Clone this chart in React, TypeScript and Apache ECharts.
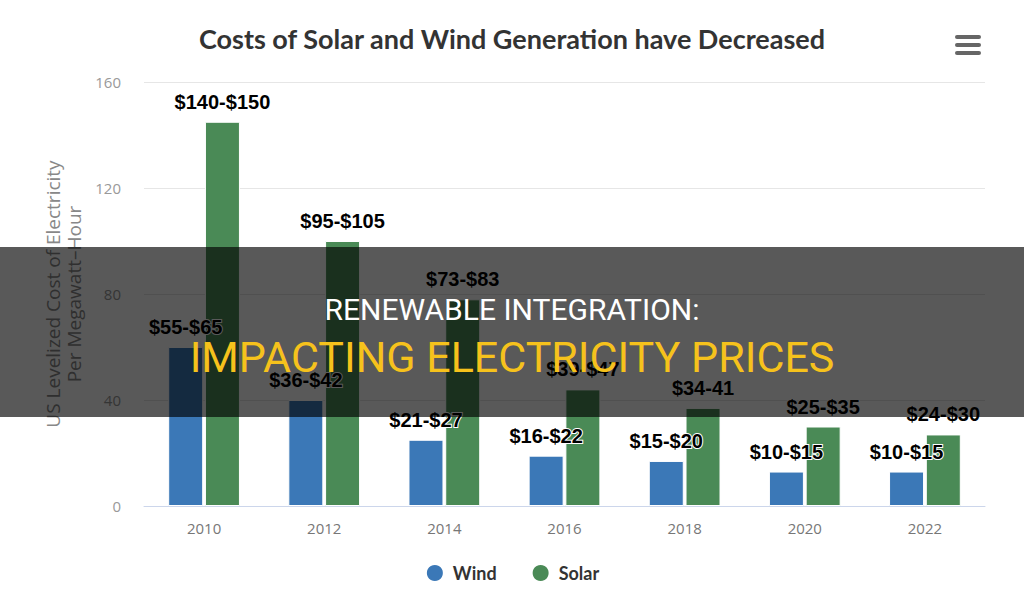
import React, { useEffect, useRef } from "react";
import * as echarts from "echarts";

const years = ["2010", "2012", "2014", "2016", "2018", "2020", "2022"];
const windValues = [60, 40, 25, 19, 17, 13, 13];
const solarValues = [145, 100, 78, 44, 37, 30, 27];
const windLabels = ["$55-$65", "$36-$42", "$21-$27", "$16-$22", "$15-$20", "$10-$15", "$10-$15"];
const solarLabels = ["$140-$150", "$95-$105", "$73-$83", "$39-$47", "$34-41", "$25-$35", "$24-$30"];
const yTicks = { min: 0, max: 160, interval: 40 };
const titleText = "Costs of Solar and Wind Generation have Decreased";
const yAxisName = "US Levelized Cost of Electricity\nPer Megawatt\u2013Hour";
const bannerLine1 = "RENEWABLE INTEGRATION:";
const bannerLine2 = "IMPACTING ELECTRICITY PRICES";

export default function App() {
  const ref = useRef<HTMLDivElement>(null);
  useEffect(() => {
    if (!ref.current) return;
    const chart = echarts.init(ref.current, undefined, { renderer: "svg" });
    const labelStyle = {
      show: true,
      position: "top",
      distance: 10,
      fontFamily: "'Liberation Sans', Arial, sans-serif",
      fontWeight: "bold",
      fontSize: 20,
      color: "#000",
      textBorderColor: "#fff",
      textBorderWidth: 2,
    };
    chart.setOption({
      animation: false,
      backgroundColor: "#fff",
      title: {
        text: titleText,
        left: "center",
        top: 20,
        textStyle: {
          fontFamily: "Lato, sans-serif",
          fontWeight: "bold",
          fontSize: 27,
          color: "#333",
        },
      },
      legend: {
        bottom: 18,
        left: "center",
        icon: "circle",
        itemWidth: 18,
        itemHeight: 18,
        itemGap: 34,
        textStyle: {
          fontFamily: "Lato, sans-serif",
          fontWeight: "bold",
          fontSize: 18,
          color: "#333",
          padding: [0, 0, 0, 4],
        },
        data: ["Wind", "Solar"],
      },
      grid: { left: 144, right: 39, top: 82, bottom: 100 },
      xAxis: {
        type: "category",
        data: years,
        axisLine: { lineStyle: { color: "#ccd6eb" } },
        axisTick: { show: false },
        axisLabel: {
          margin: 14,
          fontFamily: "'Open Sans', sans-serif",
          fontSize: 15,
          color: "#777",
        },
      },
      yAxis: {
        type: "value",
        min: yTicks.min,
        max: yTicks.max,
        interval: yTicks.interval,
        name: yAxisName,
        nameLocation: "middle",
        nameGap: 56,
        nameTextStyle: {
          fontFamily: "'Open Sans', sans-serif",
          fontSize: 19,
          color: "#888",
          lineHeight: 21,
        },
        splitLine: { lineStyle: { color: "#e6e6e6" } },
        axisLabel: {
          margin: 23,
          fontFamily: "'Open Sans', sans-serif",
          fontSize: 15,
          color: "#999",
        },
      },
      series: [
        {
          name: "Wind",
          type: "bar",
          data: windValues,
          barWidth: 35,
          barGap: "5%",
          itemStyle: { color: "#3b78b7", borderColor: "#fff", borderWidth: 1 },
          label: { ...labelStyle, formatter: (p: any) => windLabels[p.dataIndex] },
        },
        {
          name: "Solar",
          type: "bar",
          data: solarValues,
          barWidth: 35,
          barGap: "5%",
          itemStyle: { color: "#4a8a56", borderColor: "#fff", borderWidth: 1 },
          label: { ...labelStyle, formatter: (p: any) => solarLabels[p.dataIndex] },
        },
      ],
      graphic: [
        {
          type: "group",
          left: 955,
          top: 35,
          children: [
            { type: "rect", shape: { x: 0, y: 0, width: 26, height: 4, r: 2 }, style: { fill: "#666" } },
            { type: "rect", shape: { x: 0, y: 8, width: 26, height: 4, r: 2 }, style: { fill: "#666" } },
            { type: "rect", shape: { x: 0, y: 16, width: 26, height: 4, r: 2 }, style: { fill: "#666" } },
          ],
        },
        {
          type: "rect",
          z: 100,
          shape: { x: 0, y: 247, width: 1024, height: 170 },
          style: { fill: "rgba(0,0,0,0.65)" },
        },
        {
          type: "text",
          z: 101,
          x: 512,
          y: 309,
          style: {
            text: bannerLine1,
            fill: "#fff",
            fontFamily: "Roboto, sans-serif",
            fontSize: 30,
            align: "center",
            verticalAlign: "middle",
          },
        },
        {
          type: "text",
          z: 101,
          x: 512,
          y: 357,
          style: {
            text: bannerLine2,
            fill: "#f6c21c",
            fontFamily: "Roboto, sans-serif",
            fontSize: 43,
            align: "center",
            verticalAlign: "middle",
          },
        },
      ],
    });
    return () => chart.dispose();
  }, []);
  return (
    <div
      ref={ref}
      style={{ position: "fixed", left: 0, top: 0, width: 1024, height: 606 }}
    />
  );
}
